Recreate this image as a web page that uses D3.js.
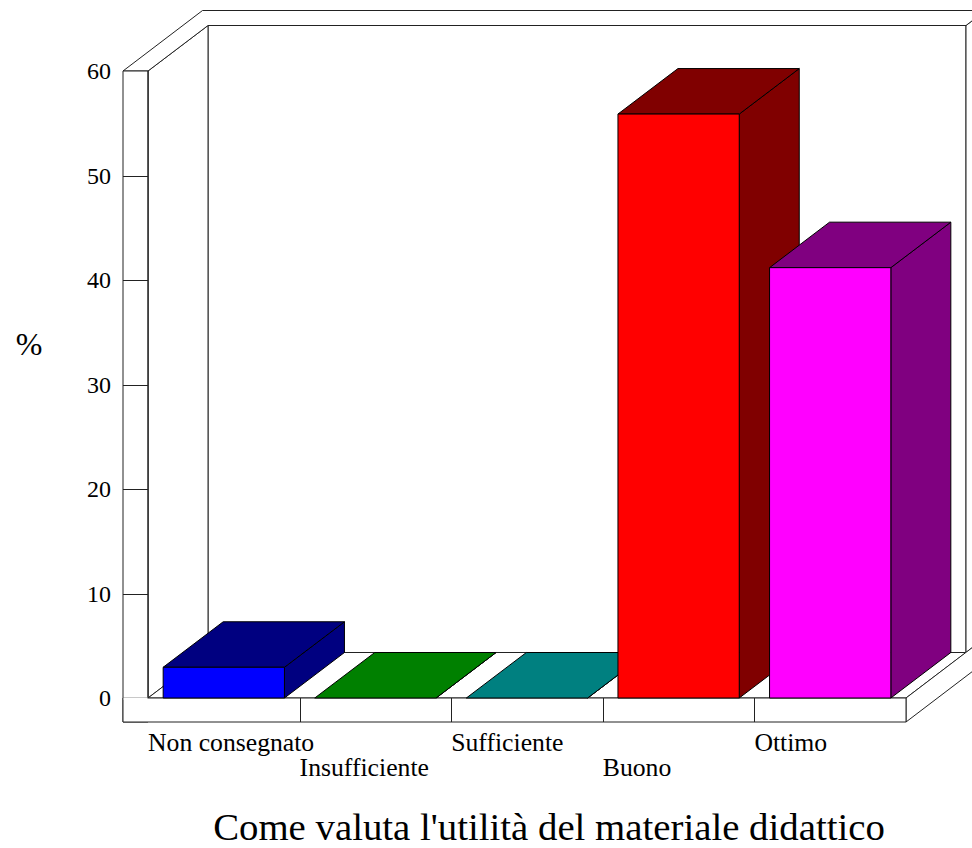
<!DOCTYPE html>
<html>
<head>
<meta charset="utf-8">
<script src="https://cdn.jsdelivr.net/npm/d3@7"></script>
<style>
  html, body { margin: 0; padding: 0; background: #fff; }
  svg { display: block; }
  text { font-family: "Liberation Serif", "Times New Roman", serif; fill: #000; }
</style>
</head>
<body>
<svg id="chart" width="972" height="848"></svg>
<script>
// ---- data ----
const categories = ["Non consegnato", "Insufficiente", "Sufficiente", "Buono", "Ottimo"];
const values = [2.94, 0, 0, 55.88, 41.18];
const frontColors = ["#0000ff", "#00ff00", "#00ffff", "#ff0000", "#ff00ff"];
const darkColors = ["#000080", "#008000", "#008080", "#800000", "#800080"];
const yTicks = [0, 10, 20, 30, 40, 50, 60];
const yLabel = "%";
const title = "Come valuta l'utilità del materiale didattico";

// ---- layout ----
const svg = d3.select("#chart");
const plotLeft = 148, plotRight = 906, yBottom = 698, yTop = 71;
const wallW = 25, floorH = 24;
const dX = 60, dY = 45.5;          // depth offset (inner)
const oX = 79.5, oY = 60.5;        // depth offset incl. back wall thickness

const x = d3.scaleBand().domain(categories).range([plotLeft, plotRight])
  .paddingInner(0.2).paddingOuter(0.1);
const y = d3.scaleLinear().domain([0, 60]).range([yBottom, yTop]);
const step = x.step();

const line = d3.line();
const wallStroke = "#222";
function poly(pts, fill, stroke) {
  svg.append("path").attr("d", line(pts) + "Z")
    .attr("fill", fill).attr("stroke", stroke || wallStroke).attr("stroke-width", 1)
    .attr("stroke-linejoin", "miter");
}

const y0 = y(0), yMax = y(60);
const wallL = plotLeft - wallW;

// back wall front face
poly([[plotLeft + dX, yMax - dY], [plotRight + dX, yMax - dY], [plotRight + dX, y0 - dY], [plotLeft + dX, y0 - dY]], "#fff");
// back wall right face
poly([[plotRight + dX, yMax - dY], [plotRight + oX, yMax - oY], [plotRight + oX, y0 - oY], [plotRight + dX, y0 - dY]], "#fff");
// left wall inner face
poly([[plotLeft, yMax], [plotLeft + dX, yMax - dY], [plotLeft + dX, y0 - dY], [plotLeft, y0]], "#fff");
// combined top of walls
poly([[wallL, yMax], [plotLeft, yMax], [plotLeft + dX, yMax - dY], [plotRight + dX, yMax - dY],
      [plotRight + oX, yMax - oY], [wallL + oX, yMax - oY]], "#fff");
// left wall front face
poly([[wallL, yMax], [plotLeft, yMax], [plotLeft, y0 + floorH], [wallL, y0 + floorH]], "#fff");
// y ticks on wall front face
yTicks.filter(t => t > 0 && t < 60).forEach(t => {
  svg.append("line").attr("x1", wallL).attr("x2", plotLeft)
    .attr("y1", Math.round(y(t)) + 0.5).attr("y2", Math.round(y(t)) + 0.5)
    .attr("stroke", wallStroke);
});
// floor top
poly([[plotLeft, y0], [plotRight, y0], [plotRight + dX, y0 - dY], [plotLeft + dX, y0 - dY]], "#fff");
// floor right face
poly([[plotRight, y0], [plotRight, y0 + floorH], [plotRight + oX, y0 + floorH - oY], [plotRight + oX, y0 - oY]], "#fff");
// floor front face
poly([[wallL, y0], [plotRight, y0], [plotRight, y0 + floorH], [wallL, y0 + floorH]], "#fff");
// category dividers on floor front
categories.slice(1).forEach((c, i) => {
  const xx = plotLeft + step * (i + 1);
  svg.append("line").attr("x1", Math.round(xx) + 0.5).attr("x2", Math.round(xx) + 0.5)
    .attr("y1", y0).attr("y2", y0 + floorH).attr("stroke", wallStroke);
});
// restore left wall inner edge over floor-front edge
svg.append("line").attr("x1", plotLeft).attr("x2", plotLeft).attr("y1", yMax).attr("y2", y0)
  .attr("stroke", wallStroke);
svg.append("rect").attr("x", wallL + 0.5).attr("y", y0 - 0.5).attr("width", wallW - 1).attr("height", 2).attr("fill", "#fff");

// ---- bars ----
categories.forEach((c, i) => {
  const x0 = x(c), x1 = x0 + x.bandwidth();
  const yt = y(values[i]);
  poly([[x1, y0], [x1 + dX, y0 - dY], [x1 + dX, yt - dY], [x1, yt]], darkColors[i], "#000");
  poly([[x0, yt], [x1, yt], [x1 + dX, yt - dY], [x0 + dX, yt - dY]], darkColors[i], "#000");
  if (values[i] > 0) {
    poly([[x0, yt], [x1, yt], [x1, y0], [x0, y0]], frontColors[i], "#000");
  }
});

// ---- texts ----
yTicks.forEach(t => {
  svg.append("text").attr("x", 111).attr("y", y(t)).attr("dy", "0.35em")
    .attr("text-anchor", "end").attr("font-size", 24).text(t);
});
svg.append("text").attr("x", 29).attr("y", 344).attr("dy", "0.35em")
  .attr("text-anchor", "middle").attr("font-size", 32).text(yLabel);

categories.forEach((c, i) => {
  svg.append("text").attr("x", plotLeft + step * i).attr("y", i % 2 === 0 ? 751 : 776)
    .attr("font-size", 25.7).text(c);
});
svg.append("text").attr("x", 549).attr("y", 840).attr("text-anchor", "middle")
  .attr("font-size", 38.8).text(title);
</script>
</body>
</html>
